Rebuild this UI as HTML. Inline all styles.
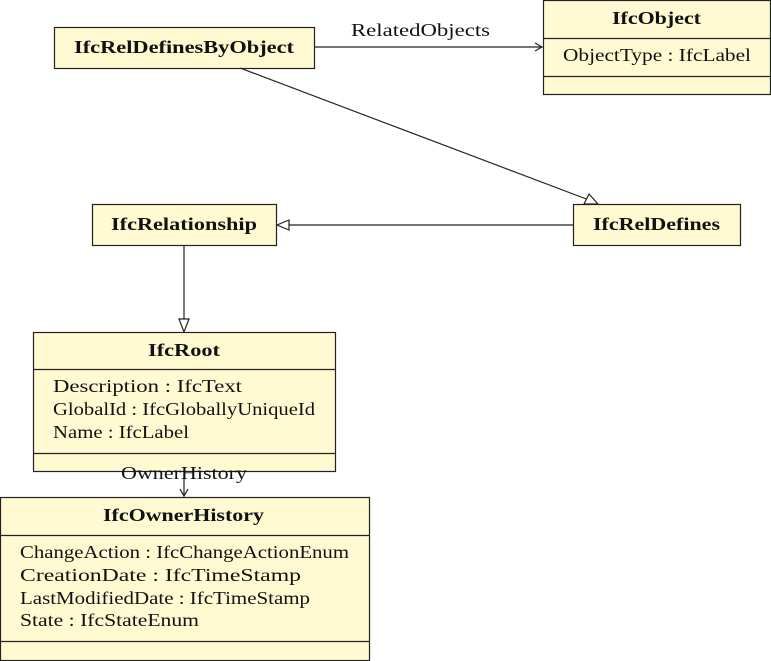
<!DOCTYPE html>
<html><head><meta charset="utf-8"><style>
html,body{margin:0;padding:0;background:#fff;}
svg{display:block;font-family:"Liberation Serif",serif;font-size:18px;}
.b{font-weight:bold;}
</style></head><body>
<svg width="771" height="661" viewBox="0 0 771 661" xmlns="http://www.w3.org/2000/svg">
<g fill="#fffad2" stroke="#222" stroke-width="1.2">
<rect x="54.5" y="27.5" width="260" height="41"/>
<rect x="543.5" y="0.5" width="227" height="94"/>
<rect x="92.5" y="204.5" width="184" height="41"/>
<rect x="573.5" y="204.5" width="167" height="41"/>
<rect x="33.5" y="332.5" width="302" height="139"/>
<rect x="0.5" y="497.5" width="369" height="163"/>
</g>
<g stroke="#222" stroke-width="1.2" fill="none">
<line x1="543" y1="38.5" x2="771" y2="38.5"/>
<line x1="543" y1="76.5" x2="771" y2="76.5"/>
<line x1="33" y1="369.5" x2="336" y2="369.5"/>
<line x1="33" y1="453.5" x2="336" y2="453.5"/>
<line x1="0" y1="535.5" x2="370" y2="535.5"/>
<line x1="0" y1="641.5" x2="370" y2="641.5"/>
<line x1="314" y1="47" x2="542" y2="47"/>
<polyline points="535,43 542,47 535,51"/>
<line x1="240" y1="68" x2="589" y2="200"/>
<polygon points="598,204 584,204 589,194" fill="#fff"/>
<line x1="573" y1="225" x2="289" y2="225"/>
<polygon points="277,225 289,220 289,230" fill="#fff"/>
<line x1="184" y1="245" x2="184" y2="319"/>
<polygon points="184,332 179,319 189,319" fill="#fff"/>
<line x1="184" y1="471" x2="184" y2="496"/>
<polyline points="180,489 184,496 188,489"/>
</g>
<g fill="#111">
<text class="b" x="74" y="53" textLength="220" lengthAdjust="spacingAndGlyphs">IfcRelDefinesByObject</text>
<text class="b" x="612" y="24" textLength="89" lengthAdjust="spacingAndGlyphs">IfcObject</text>
<text x="563" y="61" textLength="188" lengthAdjust="spacingAndGlyphs">ObjectType : IfcLabel</text>
<text x="351" y="36" textLength="139" lengthAdjust="spacingAndGlyphs">RelatedObjects</text>
<text class="b" x="111" y="230" textLength="146" lengthAdjust="spacingAndGlyphs">IfcRelationship</text>
<text class="b" x="593" y="230" textLength="127" lengthAdjust="spacingAndGlyphs">IfcRelDefines</text>
<text class="b" x="148" y="356" textLength="72" lengthAdjust="spacingAndGlyphs">IfcRoot</text>
<text x="53" y="392" textLength="189" lengthAdjust="spacingAndGlyphs">Description : IfcText</text>
<text x="53" y="415" textLength="262" lengthAdjust="spacingAndGlyphs">GlobalId : IfcGloballyUniqueId</text>
<text x="53" y="438" textLength="136" lengthAdjust="spacingAndGlyphs">Name : IfcLabel</text>
<text x="121" y="479" textLength="126" lengthAdjust="spacingAndGlyphs">OwnerHistory</text>
<text class="b" x="103" y="521" textLength="161" lengthAdjust="spacingAndGlyphs">IfcOwnerHistory</text>
<text x="20" y="558" textLength="329" lengthAdjust="spacingAndGlyphs">ChangeAction : IfcChangeActionEnum</text>
<text x="20" y="581" textLength="281" lengthAdjust="spacingAndGlyphs">CreationDate : IfcTimeStamp</text>
<text x="20" y="604" textLength="290" lengthAdjust="spacingAndGlyphs">LastModifiedDate : IfcTimeStamp</text>
<text x="20" y="626" textLength="179" lengthAdjust="spacingAndGlyphs">State : IfcStateEnum</text>
</g>
</svg>
</body></html>
